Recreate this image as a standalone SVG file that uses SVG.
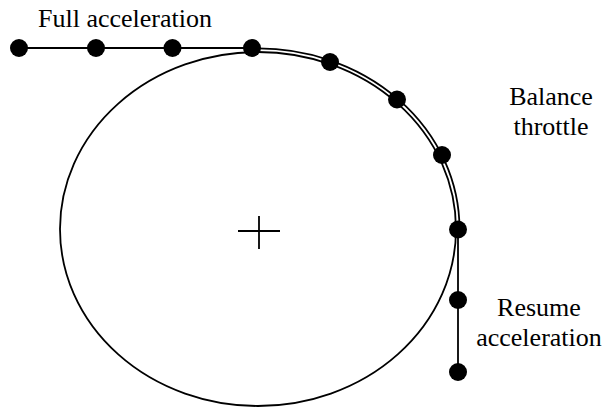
<svg xmlns="http://www.w3.org/2000/svg" width="613" height="408" viewBox="0 0 613 408">
<style>
.ln{fill:none;stroke:#000;stroke-width:1.8}
.dot{fill:#000}
.lbl{font-family:"Liberation Serif","Times New Roman",serif;font-size:26px;fill:#000}
</style>
<rect width="613" height="408" fill="#fff"/>
<g id="circle">
<ellipse class="ln" cx="258" cy="229" rx="198" ry="177"/>
<path class="ln" d="M238,231 H280 M259,216 V249" stroke-width="1.6"/>
</g>
<g id="connectors">
<path class="ln" d="M19,48 H252"/>
<path class="ln" d="M252,48.5 A201.5,180.5 0 0 1 459.5,229"/>
<path class="ln" d="M458,229.5 V372"/>
</g>
<g id="points">
<circle class="dot" cx="19" cy="48" r="9"/>
<circle class="dot" cx="96" cy="48" r="9"/>
<circle class="dot" cx="172.5" cy="48" r="9"/>
<circle class="dot" cx="252" cy="48" r="9"/>
<circle class="dot" cx="330" cy="62" r="9"/>
<circle class="dot" cx="397" cy="99.5" r="9"/>
<circle class="dot" cx="442" cy="155" r="9"/>
<circle class="dot" cx="458" cy="229.5" r="9"/>
<circle class="dot" cx="458" cy="300" r="9"/>
<circle class="dot" cx="458" cy="372" r="9"/>
</g>
<g id="label-full">
<text class="lbl" x="38" y="27">Full acceleration</text>
</g>
<g id="label-balance">
<text class="lbl" x="551" y="105" text-anchor="middle">Balance</text>
<text class="lbl" x="551" y="135" text-anchor="middle">throttle</text>
</g>
<g id="label-resume">
<text class="lbl" x="539" y="316" text-anchor="middle">Resume</text>
<text class="lbl" x="539" y="346" text-anchor="middle">acceleration</text>
</g>
</svg>
